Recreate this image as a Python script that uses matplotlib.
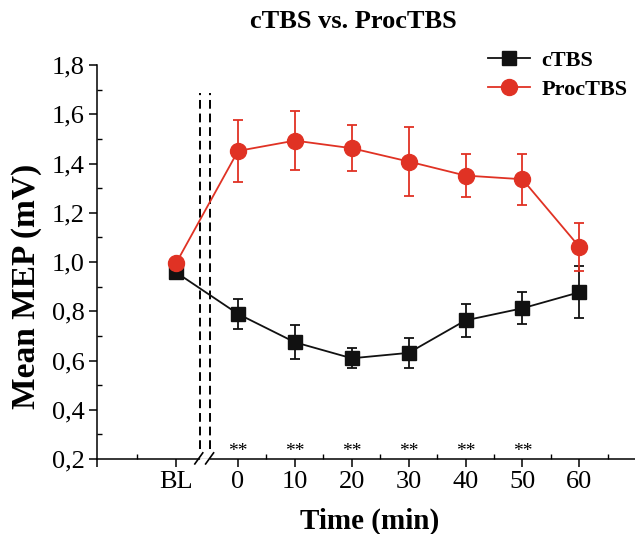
import matplotlib.pyplot as plt
from matplotlib.lines import Line2D

# donnees
temps = ["BL", "0", "10", "20", "30", "40", "50", "60"]
ctbs = [0.958, 0.789, 0.674, 0.609, 0.631, 0.763, 0.812, 0.877]
ctbs_err = [0.015, 0.062, 0.069, 0.040, 0.061, 0.067, 0.065, 0.106]
proc = [0.995, 1.451, 1.493, 1.462, 1.408, 1.351, 1.336, 1.062]
proc_err = [0.010, 0.127, 0.121, 0.094, 0.140, 0.086, 0.103, 0.097]
etoiles = ["**", "**", "**", "**", "**", "**", ""]

BL_POS = -10.9
x = [BL_POS] + [int(t) for t in temps[1:]]

plt.rcParams['font.family'] = ['Liberation Serif', 'DejaVu Serif']
rouge = "#e03224"
noir = "#111111"

fig = plt.figure(figsize=(6.35, 5.34), dpi=100)
ax = fig.add_axes([97 / 635, 1 - 459 / 534, 538 / 635, (459 - 65) / 534])

ax.errorbar(x, ctbs, yerr=ctbs_err, color=noir, marker="s", markersize=10,
            lw=1.3, elinewidth=1.3, capsize=3.5, capthick=1.3, zorder=3)
ax.errorbar(x, proc, yerr=proc_err, color=rouge, marker="o", markersize=11.5,
            lw=1.3, elinewidth=1.3, capsize=3.5, capthick=1.3, zorder=4)

# lignes pointillees et coupure de l'axe
for xv in [-6.7, -5.0]:
    ax.plot([xv, xv], [0.24, 1.685], color="black", ls=(0, (4.5, 2.5)), lw=1.4, zorder=2)
ax.plot([-6.6, -5.2], [0.2, 0.2], color="white", lw=2, clip_on=False, zorder=5)
for xv in [-6.9, -5.0]:
    ax.plot([xv - 0.7, xv + 0.7], [0.18, 0.225], color="black", lw=1.2,
            clip_on=False, zorder=6)

for xv, s in zip(x[1:], etoiles):
    ax.text(xv, 0.213, s, ha="center", va="baseline", fontsize=14)

ax.set_xlim(-24.8, 69.8)
ax.set_ylim(0.2, 1.8)
ax.set_xticks([-24.8] + x)
ax.set_xticklabels([""] + temps, fontsize=19)
ax.set_xticks([-17.85, 5, 15, 25, 35, 45, 55, 65], minor=True)
ax.set_yticks([0.2, 0.4, 0.6, 0.8, 1.0, 1.2, 1.4, 1.6, 1.8])
ax.set_yticklabels(["0,2", "0,4", "0,6", "0,8", "1,0", "1,2", "1,4", "1,6", "1,8"], fontsize=19)
ax.set_yticks([0.3, 0.5, 0.7, 0.9, 1.1, 1.3, 1.5, 1.7], minor=True)
ax.tick_params(which="major", direction="out", length=6, width=1.1, pad=3)
ax.tick_params(which="minor", direction="in", length=3.5, width=1.0)
ax.spines["top"].set_visible(False)
ax.spines["right"].set_visible(False)
ax.spines["left"].set_linewidth(1.1)
ax.spines["bottom"].set_linewidth(1.1)

fig.text(370 / 635, 1 - 521 / 534, "Time (min)", ha="center", va="center",
         fontsize=21, fontweight="bold")
fig.text(27 / 635, 1 - 286 / 534, "Mean MEP (mV)", ha="center", va="center",
         rotation=90, fontsize=24, fontweight="bold")
fig.text(353 / 635, 1 - 22 / 534, "cTBS vs. ProcTBS", ha="center", va="center",
         fontsize=19, fontweight="bold")

poignees = [Line2D([], [], color=noir, marker="s", markersize=10, lw=1.3),
            Line2D([], [], color=rouge, marker="o", markersize=11.5, lw=1.3)]
fig.legend(poignees, ["cTBS", "ProcTBS"], loc="upper left",
           bbox_to_anchor=(488 / 635, 1 - 50 / 534), frameon=False,
           prop={"weight": "bold", "size": 16}, handlelength=1.9, handletextpad=0.5,
           labelspacing=0.4, borderaxespad=0, borderpad=0)

fig.savefig("out.png", dpi=100)
